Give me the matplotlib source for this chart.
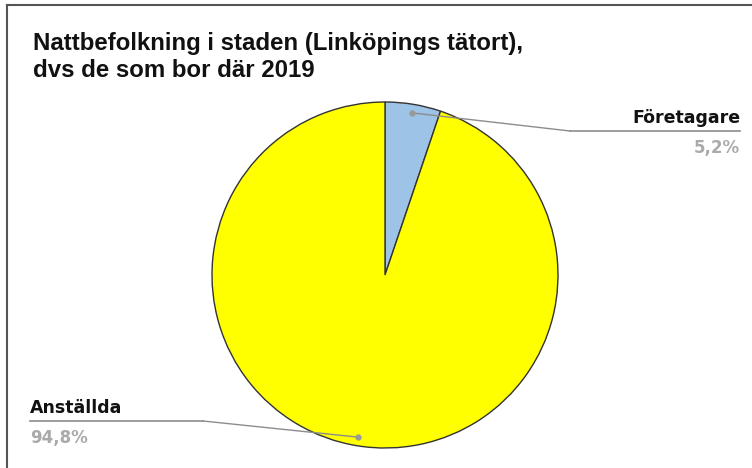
import numpy as np
import matplotlib
matplotlib.use("Agg")
import matplotlib.pyplot as plt

categories = ["Företagare", "Anställda"]
values = [5.2, 94.8]
pct_labels = ["5,2%", "94,8%"]
colors = ["#9DC3E6", "#FFFF00"]
title_lines = ["Nattbefolkning i staden (Linköpings tätort),", "dvs de som bor där 2019"]

W, H = 752, 468
fig = plt.figure(figsize=(W / 100, H / 100), dpi=100)
ax = fig.add_axes([0, 0, 1, 1])
ax.set_xlim(0, W)
ax.set_ylim(0, H)
ax.set_aspect("equal")
ax.axis("off")

cx, cy, R = 385, H - 275, 173
wedges, _ = ax.pie(values, colors=colors, startangle=90, counterclock=False,
                   center=(cx, cy), radius=R,
                   wedgeprops=dict(edgecolor="#333333", linewidth=1.0))
ax.set_xlim(0, W)
ax.set_ylim(0, H)

# frame (top and left lines)
ax.plot([7, W], [H - 5, H - 5], color="#555555", lw=1.5, clip_on=False)
ax.plot([7, 7], [H - 5, 0], color="#555555", lw=1.5, clip_on=False)

for i, line in enumerate(title_lines):
    ax.text(33, H - 50 - 27 * i, line, fontsize=17.3, fontweight="bold", color="#111111",
            family=["Liberation Sans", "DejaVu Sans"], ha="left", va="baseline")

line_col = "#8c8c8c"
layouts = [
    dict(tx=740, ly=H - 131, ex=570, ha="right", x0=570, x1=740),
    dict(tx=30, ly=H - 421, ex=203, ha="left", x0=30, x1=203),
]
for w, cat, pct, L in zip(wedges, categories, pct_labels, layouts):
    mid = np.deg2rad((w.theta1 + w.theta2) / 2)
    px = cx + 0.95 * R * np.cos(mid)
    py = cy + 0.95 * R * np.sin(mid)
    ax.plot([L["x0"], L["x1"]], [L["ly"], L["ly"]], color=line_col, lw=1.2)
    ax.plot([L["ex"], px], [L["ly"], py], color=line_col, lw=1.0)
    ax.plot(px, py, "o", color="#999999", ms=3.5)
    ax.text(L["tx"], L["ly"] + 8, cat, fontsize=12.5, fontweight="bold", color="#111111",
            family="DejaVu Sans", ha=L["ha"], va="baseline")
    ax.text(L["tx"], L["ly"] - 22, pct, fontsize=12, fontweight="bold", color="#aaaaaa",
            family="DejaVu Sans", ha=L["ha"], va="baseline")

fig.savefig("out.png", dpi=100)
